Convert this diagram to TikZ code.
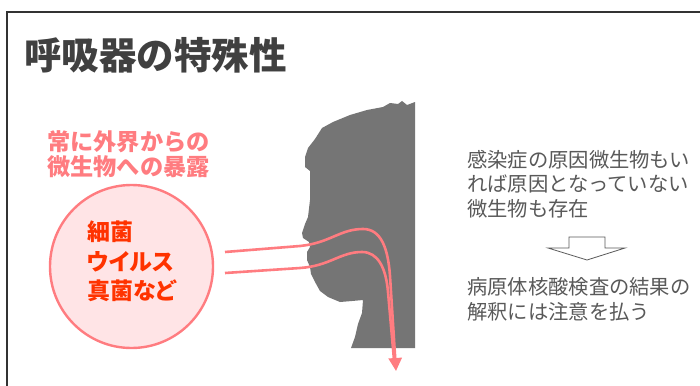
\documentclass[tikz,border=0pt]{standalone}
\usepackage{fontspec}
\newfontfamily\jp{Noto Sans CJK JP}
\newfontfamily\jpp{Noto Sans CJK JP}[RawFeature=+palt]
\usetikzlibrary{arrows.meta,positioning}
\definecolor{coltitle}{HTML}{404040}
\definecolor{colsalmon}{HTML}{FF7C80}
\definecolor{colblush}{HTML}{FFE4E6}
\definecolor{colvivid}{HTML}{FF3300}
\definecolor{colface}{HTML}{757575}
\definecolor{colnote}{HTML}{595959}

\begin{document}
\begin{tikzpicture}[
  x=1pt, y=-1pt,
  flow/.style={colsalmon,line width=2.6pt},
  note/.style={colnote,anchor=north west,inner sep=0pt,align=left,
               font=\jp\fontsize{20.3}{24.5}\selectfont},
]
  \useasboundingbox (0,0) rectangle (700,385);
  \fill[white] (0,0) rectangle (700,385);

  % marco de la diapositiva: sigue mas alla del borde derecho e inferior
  \draw[coltitle!80!black,line width=1.5pt] (7,400) -- (7,12) -- (720,12);

  \node[coltitle,anchor=west,inner sep=0pt,font=\jp\bfseries\fontsize{37.5}{40}\selectfont]
        (title) at (24,55) {呼吸器の特殊性};

  \node[colsalmon,anchor=north west,inner sep=0pt,align=left,
        font=\jp\bfseries\fontsize{23.2}{25}\selectfont]
        (exposure) at (47,130) {常に外界からの\\微生物への暴露};

  \node[circle,draw=colsalmon,fill=colblush,line width=2.4pt,
        minimum size=163pt] (microbes) at (131.5,266.5) {};
  \node[colvivid,anchor=north west,inner sep=0pt,align=left,
        font=\jpp\bfseries\fontsize{23}{29.5}\selectfont]
        (microbenames) at (87,221) {細菌\\ウイルス\\真菌など};

  % silueta de perfil, de la coronilla al cuello
  \fill[colface] (415,102) -- (407,105) -- (402,101) -- (398,104) -- (390,103)
    -- (383,107) -- (367,110) -- (350,115) -- (333,122) -- (322,128)
    -- (315,139) -- (308,148) -- (305,157) -- (305,167) -- (310,171)
    -- (310,183) -- (310,200) -- (308,217) -- (305,224) -- (302,233)
    -- (303,238) -- (309,242) -- (310,247) -- (307,252) -- (307,260)
    -- (310,267) -- (311,274) -- (315,282) -- (320,291) -- (328,297)
    -- (340,302) -- (352,301) -- (363,300) -- (362,313) -- (358,324)
    -- (355,337) -- (351,348) -- (415,348) -- cycle;

  \coordinate (airA) at (225,252);
  \coordinate (airB) at (225,273);
  \coordinate (lung) at (396,371);

  % dos corrientes de aire que bajan juntas hacia la misma punta
  \draw[flow] (airB) -- (300,268) .. controls (330,266) and (340,252) .. (362,252)
    .. controls (378,252) and (386,268) .. (388,292) -- (394,360);
  \draw[flow,-{Triangle[length=13pt,width=13pt]}] (airA) -- (300,246)
    .. controls (330,243) and (340,229) .. (363,229)
    .. controls (381,229) and (388,248) .. (390,276) -- (lung);

  \node[note] (cause) at (467,150)
        {感染症の原因微生物もい\\れば原因となっていない\\微生物も存在};
  \node[note,font=\jp\fontsize{20.3}{25}\selectfont] (caution) at (467,277)
        {病原体核酸検査の結果の\\解釈には注意を払う};

  % flecha hueca entre las dos notas
  \draw[colnote,line width=0.8pt,fill=white]
    (569,237) -- (605,237) -- (605,248) -- (625,248) -- (587,260)
    -- (548,248) -- (569,248) -- cycle;
\end{tikzpicture}
\end{document}
